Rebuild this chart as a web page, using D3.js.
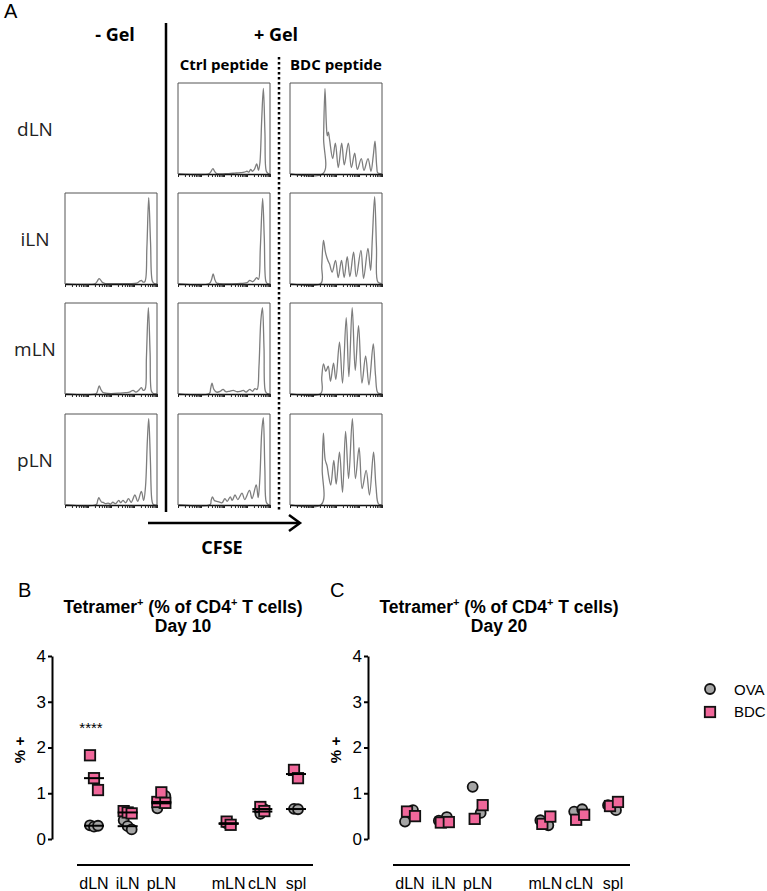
<!DOCTYPE html>
<html><head><meta charset="utf-8">
<script src="https://cdn.jsdelivr.net/npm/d3@7"></script>
<style>body{margin:0;background:#fff} svg{display:block}</style>
</head><body>
<svg id="chart" width="767" height="891"></svg>
<script>
// ---------- Panel A data (CFSE histograms: [CFSE % of axis, count % of max]) ----------
const histRows = ["dLN", "iLN", "mLN", "pLN"];
const histCols = ["- Gel", "Ctrl peptide", "BDC peptide"];

const noGelHists = [
  null,
  [[0,0.5],[33,0.5],[35,3],[37,6],[39,4],[41,1.5],[44,0.5],[60,0.5],[70,0.5],[78,1],[81,3],[83,4],[85,2],[87,3],[89,40],[91,95],[93,45],[95,3],[97,0.5],[100,0]],
  [[0,0.5],[34,0.5],[35.5,4],[37.2,9],[39,5],[41,2],[44,1],[50,0.5],[60,1],[66,1.5],[70,2],[74,4],[77,2],[80,4],[83,7],[85,4],[87,5],[88.5,40],[90.6,95],[92.5,45],[94,3],[96,0.5],[100,0]],
  [[0,0.5],[34,0.5],[35.5,5],[36.8,8],[38.5,5],[40,3],[41.5,3],[44,1.5],[47,2],[49.5,1],[52,3],[55,1.5],[58.5,5],[60.5,2.5],[63,5],[66,2.5],[69,7],[72,3],[76,11],[79,4],[83,15],[85.5,5],[87.5,20],[89.5,70],[91,95],[92.8,50],[94.5,5],[96,0.5],[100,0]]
];
const ctrlHists = [
  [[0,0.5],[34,0.5],[36,3],[38,6],[40,2.5],[42,0.5],[55,0.5],[62,1],[68,1.5],[72,2],[75,3],[77,2],[79,5],[81,3],[83,5],[85.5,11],[87.5,4],[89,12],[91,60],[92.8,94],[94.5,45],[96,3],[98,0.5],[100,0]],
  [[0,0.5],[34,0.5],[36.5,5],[38.2,11],[40,5],[42,1],[45,0.5],[65,0.5],[75,1.5],[78,4],[81,2.5],[83,4],[85.5,7],[87.5,5],[89.5,40],[92,94],[93.8,50],[95.5,3],[97,0.5],[100,0]],
  [[0,0.5],[34,0.5],[35.5,6],[37,12],[39,5],[42,2],[46,3],[49,5],[52,2.5],[56,3],[60,4],[64,2.5],[68,3],[71,4],[74,2],[78,5],[81,3],[83.6,6],[86,5],[88,30],[90,80],[91.8,95],[93.5,50],[95,3],[97,0.5],[100,0]],
  [[0,0.5],[35,0.5],[36,5],[37.4,9],[39.5,5],[42,4],[45.8,3],[48,2.5],[51,7],[53.5,4],[56.8,9],[59,5],[62,11],[65,6],[69.6,13],[72.5,6],[77.7,16],[80.5,7],[85,22],[87.2,8],[89,30],[91,80],[92.7,96],[94.4,40],[96,3],[98,0.5],[100,0]]
];
const bdcHists = [
  [[0,0.5],[36,0.5],[36.5,40],[38,94],[39.5,55],[40.5,42],[41.7,46],[43,38],[46.4,17],[49.3,34],[52.5,7],[56.2,34],[59,10],[63.4,34],[66.7,7],[70.3,23],[73.2,5],[77.5,17],[80.4,4],[84.8,17],[88,3],[90.5,20],[92.4,36],[94.3,8],[95.5,1],[100,0.5]],
  [[0,0.5],[33.5,0.5],[34.5,20],[36.4,48],[38.5,35],[41.1,26],[43,22],[45.8,13],[49.5,26],[52.4,7],[56,26],[58.9,7],[62.2,30],[65.1,8],[69.1,35],[72,8],[77.1,37],[80,6],[84.7,39],[87.6,15],[89.5,50],[92,96],[94,40],[95.6,2],[100,0.5]],
  [[0,0.5],[33.5,0.5],[34.5,18],[36.4,33],[38.9,25],[41.5,30.5],[44,14],[47.3,34],[49.8,16],[53.8,57],[57.1,12],[61.1,84],[64,19],[67.6,95],[70.9,26],[74.5,75],[78.2,12],[82.2,42],[85.8,10],[90.5,55],[93,20],[95.6,1],[100,0.5]],
  [[0,0.5],[34,0.5],[35,40],[36.3,79],[38.2,50],[40.3,43],[42,32],[44.3,22],[47.6,49],[50.2,23],[53.8,58],[57.1,14],[60.4,81],[63.7,29],[67.8,95],[71.1,29],[75.1,63],[78.4,18],[82.8,38],[86.4,11],[90.8,58],[93.5,20],[96.3,1],[100,0.5]]
];

// ---------- Panels B / C data (Tetramer+ % of CD4+ T cells) ----------
const categories = ["dLN", "iLN", "pLN", "mLN", "cLN", "spl"];
const yTicks = [0, 1, 2, 3, 4];
const day10_OVA = [[0.30,0.27,0.29],[0.41,0.28,0.21],[0.67,0.78,0.94],[0.34,0.32],[0.55,0.65],[0.66,0.65]];
const day10_BDC = [[1.83,1.33,1.07],[0.61,0.58,0.56],[0.81,1.02,0.79],[0.38,0.31],[0.70,0.61],[1.51,1.33]];
const day20_OVA = [[0.38,0.63],[0.40,0.48],[1.14,0.57],[0.41,0.30],[0.60,0.65],[0.74,0.63]];
const day20_BDC = [[0.60,0.50],[0.36,0.37],[0.44,0.74],[0.33,0.49],[0.42,0.53],[0.72,0.81]];
const seriesNames = ["OVA", "BDC"];

// ---------- drawing ----------
const svg = d3.select("#chart");
const FA = "'Open Sans', 'Lato', sans-serif";
const FB = "'Liberation Sans', Arial, sans-serif";

// Panel A
svg.append("text").attr("x", 4).attr("y", 18).attr("font-family", FB).attr("font-size", 20).text("A");

const colX = [65, 178, 290], rowY = [83, 193, 303, 414], boxW = 92, boxH = 91;
const hx = d3.scaleLinear().domain([0, 100]).range([0, boxW]);
const hy = d3.scaleLinear().domain([0, 100]).range([boxH, 0]);
const logAx = d3.scaleLog().domain([1, 1e4]).range([0, boxW]);
const hline = d3.line().x(d => hx(d[0])).y(d => Math.min(boxH, hy(d[1]))).curve(d3.curveCatmullRom.alpha(0.5));
const allHists = [noGelHists, ctrlHists, bdcHists];

allHists.forEach((col, ci) => {
  col.forEach((data, ri) => {
    if (!data) return;
    const g = svg.append("g").attr("transform", `translate(${colX[ci]},${rowY[ri]})`);
    g.append("path").attr("d", `M0,${boxH}V0H${boxW}V${boxH}`).attr("fill", "none").attr("stroke", "#555").attr("stroke-width", 1);
    g.append("path").datum(data).attr("d", hline).attr("fill", "none").attr("stroke", "#7d7d7d").attr("stroke-width", 1.3);
    const ax = g.append("g").attr("transform", `translate(0,${boxH})`)
      .call(d3.axisBottom(logAx).tickSize(3).tickSizeOuter(0).tickFormat(""));
    ax.select(".domain").attr("stroke", "#111").attr("stroke-width", 1.6);
    ax.selectAll(".tick line").attr("stroke", "#222").attr("stroke-width", 1);
  });
});

histRows.forEach((r, ri) => {
  svg.append("text").attr("x", 35).attr("y", rowY[ri] + 53).attr("text-anchor", "middle")
    .attr("font-family", FA).attr("font-size", 19).attr("fill", "#222").text(r);
});
svg.append("text").attr("x", 115).attr("y", 41).attr("text-anchor", "middle").attr("font-family", FA)
  .attr("font-weight", "bold").attr("font-size", 18).text(histCols[0]);
svg.append("text").attr("x", 276).attr("y", 41).attr("text-anchor", "middle").attr("font-family", FA)
  .attr("font-weight", "bold").attr("font-size", 18).text("+ Gel");
svg.append("text").attr("x", 224).attr("y", 70).attr("text-anchor", "middle").attr("font-family", FA)
  .attr("font-weight", "bold").attr("font-size", 15).text(histCols[1]);
svg.append("text").attr("x", 336).attr("y", 70).attr("text-anchor", "middle").attr("font-family", FA)
  .attr("font-weight", "bold").attr("font-size", 15).text(histCols[2]);

svg.append("line").attr("x1", 166).attr("x2", 166).attr("y1", 23).attr("y2", 512).attr("stroke", "#000").attr("stroke-width", 2.5);
svg.append("line").attr("x1", 279).attr("x2", 279).attr("y1", 57).attr("y2", 512).attr("stroke", "#000").attr("stroke-width", 2.5).attr("stroke-dasharray", "2.5,2.5");
svg.append("line").attr("x1", 148).attr("x2", 299).attr("y1", 523).attr("y2", 523).attr("stroke", "#000").attr("stroke-width", 2.5);
svg.append("path").attr("d", "M289,515L300,523L289,531").attr("fill", "none").attr("stroke", "#000").attr("stroke-width", 2.5);
svg.append("text").attr("x", 222).attr("y", 554).attr("text-anchor", "middle").attr("font-family", FA)
  .attr("font-weight", "bold").attr("font-size", 18).text("CFSE");

// Panels B & C
const slots = ["dLN", "iLN", "pLN", "gap", "mLN", "cLN", "spl"];
const y = d3.scaleLinear().domain([0, 4]).range([839, 656]);

function panel(p) {
  const x = d3.scalePoint().domain(slots).range(p.xr);
  const g = svg.append("g");
  g.append("text").attr("x", p.lx).attr("y", 597).attr("font-family", FB).attr("font-size", 20).text(p.letter);
  const t = g.append("text").attr("x", p.tx).attr("y", 613).attr("text-anchor", "middle")
    .attr("font-family", FB).attr("font-weight", "bold").attr("font-size", 17.5);
  t.append("tspan").text("Tetramer");
  t.append("tspan").attr("font-size", 11).attr("dy", -7).text("+");
  t.append("tspan").attr("dy", 7).text(" (% of CD4");
  t.append("tspan").attr("font-size", 11).attr("dy", -7).text("+");
  t.append("tspan").attr("dy", 7).text(" T cells)");
  g.append("text").attr("x", p.tx).attr("y", 632).attr("text-anchor", "middle")
    .attr("font-family", FB).attr("font-weight", "bold").attr("font-size", 17.5).text(p.day);

  const ya = g.append("g").attr("transform", `translate(${p.ax},0)`)
    .call(d3.axisLeft(y).tickValues(yTicks).tickSize(4).tickPadding(2).tickSizeOuter(0).tickFormat(d3.format("d")));
  ya.select(".domain").attr("stroke", "#000").attr("stroke-width", 2);
  ya.selectAll(".tick line").attr("stroke", "#000").attr("stroke-width", 2);
  ya.selectAll(".tick text").attr("font-family", FB).attr("font-size", 17).attr("fill", "#000");

  g.append("text").attr("transform", `translate(${p.ax - 27},750) rotate(-90)`).attr("text-anchor", "middle")
    .attr("font-family", FB).attr("font-weight", "bold").attr("font-size", 15).text("% +");

  g.append("line").attr("x1", x("dLN") - 17).attr("x2", x("spl") + 17).attr("y1", 865).attr("y2", 865)
    .attr("stroke", "#000").attr("stroke-width", 2);
  categories.forEach(c => {
    g.append("text").attr("x", x(c)).attr("y", 889).attr("text-anchor", "middle")
      .attr("font-family", FB).attr("font-size", 16).text(c);
  });

  const off = (i, n) => (i - (n - 1) / 2) * p.spread;
  // OVA circles
  p.ova.forEach((vals, ci) => {
    vals.forEach((v, i) => {
      g.append("circle").attr("cx", x(categories[ci]) + off(i, vals.length) + p.shift[0]).attr("cy", y(v)).attr("r", 5)
        .attr("fill", "#a5a5a5").attr("stroke", "#111").attr("stroke-width", 1.8);
    });
  });
  // BDC squares
  p.bdc.forEach((vals, ci) => {
    vals.forEach((v, i) => {
      const cx = x(categories[ci]) + off(i, vals.length) + p.shift[1];
      g.append("rect").attr("x", cx - 5.2).attr("y", y(v) - 5.2).attr("width", 10.4).attr("height", 10.4)
        .attr("fill", "#f0679a").attr("stroke", "#111").attr("stroke-width", 1.8);
    });
  });
  if (p.medians) {
    [p.ova, p.bdc].forEach(ser => {
      ser.forEach((vals, ci) => {
        const m = d3.median(vals);
        g.append("line").attr("x1", x(categories[ci]) - 10).attr("x2", x(categories[ci]) + 10)
          .attr("y1", y(m)).attr("y2", y(m)).attr("stroke", "#000").attr("stroke-width", 2);
      });
    });
  }
  if (p.stars) {
    g.append("text").attr("x", x("dLN") - 3).attr("y", 733).attr("text-anchor", "middle")
      .attr("font-family", FB).attr("font-size", 15).attr("fill", "#000").text(p.stars);
  }
}

panel({letter: "B", lx: 18, tx: 183, day: "Day 10", ax: 52, xr: [94, 296], ova: day10_OVA, bdc: day10_BDC,
       spread: 4, shift: [0, 0], medians: true, stars: "****"});
panel({letter: "C", lx: 330, tx: 499, day: "Day 20", ax: 368, xr: [410, 613], ova: day20_OVA, bdc: day20_BDC,
       spread: 8, shift: [-1, 1], medians: false, stars: null});

// legend
const lg = svg.append("g");
lg.append("circle").attr("cx", 710).attr("cy", 689).attr("r", 5).attr("fill", "#a5a5a5").attr("stroke", "#111").attr("stroke-width", 1.8);
lg.append("rect").attr("x", 704.8).attr("y", 706.8).attr("width", 10.4).attr("height", 10.4).attr("fill", "#f0679a").attr("stroke", "#111").attr("stroke-width", 1.8);
lg.append("text").attr("x", 734).attr("y", 695).attr("font-family", FB).attr("font-size", 15).text(seriesNames[0]);
lg.append("text").attr("x", 734).attr("y", 717).attr("font-family", FB).attr("font-size", 15).text(seriesNames[1]);
</script>
</body></html>
